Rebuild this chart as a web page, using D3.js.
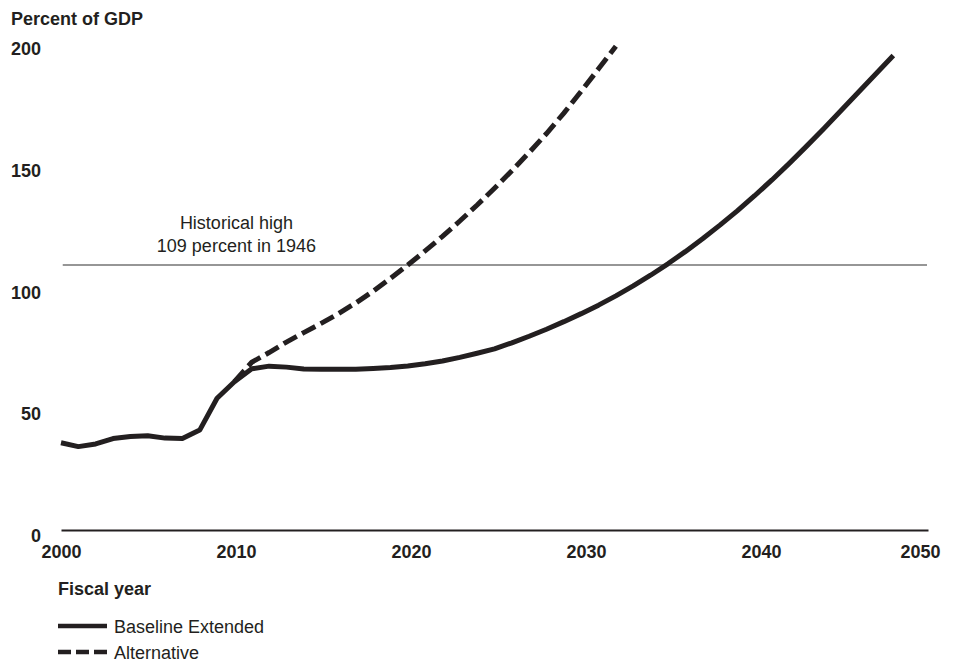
<!DOCTYPE html>
<html>
<head>
<meta charset="utf-8">
<script src="https://cdn.jsdelivr.net/npm/d3@7"></script>
<style>
  body { margin: 0; background: #fff; }
  text { font-family: "Liberation Sans", Arial, Helvetica, sans-serif; fill: #231f20; }
</style>
</head>
<body>
<svg id="chart" width="957" height="666"></svg>
<script>
// ---- Data ----
const baselineYears = [2000,2001,2002,2003,2004,2005,2006,2007,2008,2009,
  2010,2011,2012,2013,2014,2015,2016,2017,2018,2019,
  2020,2021,2022,2023,2024,2025,2026,2027,2028,2029,
  2030,2031,2032,2033,2034,2035,2036,2037,2038,2039,
  2040,2041,2042,2043,2044,2045,2046,2047,2048];
const baselineValues = [35.9,34.3,35.4,37.6,38.5,38.8,37.8,37.6,41.1,54.2,
  61.0,66.3,67.4,67.0,66.2,66.1,66.1,66.1,66.4,66.8,
  67.5,68.4,69.5,71.0,72.7,74.5,77.0,79.7,82.6,85.7,
  89.0,92.5,96.3,100.4,104.8,109.5,114.5,119.8,125.4,131.3,
  137.5,144.0,150.8,157.9,165.2,172.7,180.2,187.7,195.2];
const alternativeYears = [2010,2011,2012,2013,2014,2015,2016,2017,2018,2019,
  2020,2021,2022,2023,2024,2025,2026,2027,2028,2029,2030,2031,2032];
const alternativeValues = [61.0,69.0,73.0,77.3,81.2,85.0,89.0,93.4,98.2,103.5,
  109.0,114.8,120.8,127.1,133.7,140.6,147.8,155.3,163.1,171.5,180.5,189.7,199.0];
const historicalHigh = 109;
const historicalLabel = ["Historical high", "109 percent in 1946"];
const xTicks = [2000, 2010, 2020, 2030, 2040, 2050];
const yTicks = [0, 50, 100, 150, 200];
const seriesNames = ["Baseline Extended", "Alternative"];
const yAxisTitle = "Percent of GDP";
const xAxisTitle = "Fiscal year";

// ---- Layout ----
const ink = "#231f20";
const svg = d3.select("#chart");
const x = d3.scaleLinear().domain([2000, 2050]).range([61, 928]);
const y = d3.scaleLinear().domain([0, 200]).range([530, 43.8]);

// y axis labels (no line, no ticks)
const yAxis = svg.append("g")
  .attr("transform", "translate(41,0)")
  .call(d3.axisLeft(y).tickValues(yTicks).tickSize(0).tickPadding(0).tickFormat(d3.format("d")));
yAxis.select(".domain").remove();
yAxis.selectAll("text")
  .attr("dy", "0.62em")
  .style("font-size", "18px").style("font-weight", "bold")
  .style("font-family", "'Liberation Sans', Arial, sans-serif").attr("fill", ink);

// x axis (baseline at zero)
const xAxis = svg.append("g")
  .attr("transform", `translate(0,${y(0)})`)
  .call(d3.axisBottom(x).tickValues(xTicks).tickSize(0).tickSizeOuter(0).tickPadding(15).tickFormat(d3.format("d")));
xAxis.select(".domain").attr("stroke", ink).attr("stroke-width", 2.2);
xAxis.selectAll("text")
  .style("font-size", "18px").style("font-weight", "bold")
  .style("font-family", "'Liberation Sans', Arial, sans-serif").attr("fill", ink)
  .attr("dy", "0.71em")
  .attr("text-anchor", d => d === 2050 ? "end" : "middle")
  .attr("dx", d => d === 2050 ? 12 : (d - 2000) * 0.16);

// Historical high reference line
svg.append("line")
  .attr("x1", x(2000.1)).attr("x2", x(2050) - 1)
  .attr("y1", y(historicalHigh)).attr("y2", y(historicalHigh))
  .attr("stroke", "#2e2e2e").attr("stroke-width", 1.1);
svg.append("text")
  .attr("x", x(2010) + 2).attr("y", 229)
  .attr("text-anchor", "middle").style("font-size", "18px")
  .text(historicalLabel[0]);
svg.append("text")
  .attr("x", x(2010) + 2).attr("y", 252)
  .attr("text-anchor", "middle").style("font-size", "18px")
  .text(historicalLabel[1]);

// Lines
const line = d3.line().x(d => x(d[0])).y(d => y(d[1]));
svg.append("path")
  .datum(alternativeYears.map((yr, i) => [yr, alternativeValues[i]]))
  .attr("d", line).attr("fill", "none")
  .attr("stroke", ink).attr("stroke-width", 5)
  .attr("stroke-dasharray", "15,6");
svg.append("path")
  .datum(baselineYears.map((yr, i) => [yr, baselineValues[i]]))
  .attr("d", line).attr("fill", "none")
  .attr("stroke", ink).attr("stroke-width", 5).attr("stroke-linejoin", "round");

// Titles
svg.append("text").attr("x", 11).attr("y", 25)
  .style("font-size", "18px").style("font-weight", "bold").text(yAxisTitle);
svg.append("text").attr("x", 58).attr("y", 595)
  .style("font-size", "18px").style("font-weight", "bold").text(xAxisTitle);

// Legend
const legend = svg.append("g");
seriesNames.forEach((name, i) => {
  const ly = 626 + i * 26;
  legend.append("line")
    .attr("x1", 58).attr("x2", 107).attr("y1", ly).attr("y2", ly)
    .attr("stroke", ink).attr("stroke-width", 4.5)
    .attr("stroke-dasharray", i === 1 ? "13,5" : null);
  legend.append("text").attr("x", 114).attr("y", ly + 7)
    .style("font-size", "18px").text(name);
});
</script>
</body>
</html>
